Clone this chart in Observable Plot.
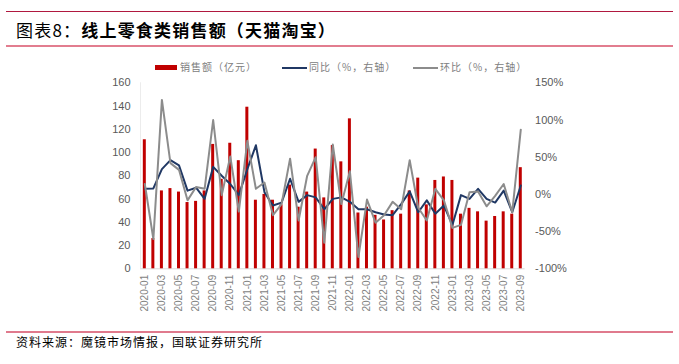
<!DOCTYPE html>
<html>
<head>
<meta charset="utf-8">
<script src="https://cdn.jsdelivr.net/npm/d3@7"></script>
<script src="https://cdn.jsdelivr.net/npm/@observablehq/plot@0.6"></script>
<style>
  body { margin: 0; background: #fff; }
  #wrap { position: relative; width: 679px; height: 364px; overflow: hidden; background: #fff;
          font-family: "Noto Sans CJK SC", "Noto Sans", sans-serif; }
  .abs { position: absolute; }
  .lg { position: absolute; top: 60px; font-size: 10px; line-height: 14px; letter-spacing: 1px; color: #808080; white-space: nowrap; }
</style>
</head>
<body>
<div id="wrap">
  <div class="abs" style="top:11px;left:6px;width:667px;height:1px;background:#B0183F"></div>
  <div class="abs" style="top:18px;left:16px;font-size:17px;line-height:24px;letter-spacing:1.2px;color:#000;white-space:nowrap">
    <span style="font-weight:400">图表8：</span><span style="font-weight:700">线上零食类销售额（天猫淘宝）</span>
  </div>
  <div class="abs" style="top:45px;left:6px;width:667px;height:2px;background:#E27D8F"></div>

  <div class="abs" style="top:65px;left:155px;width:22px;height:5px;background:#C00000"></div>
  <div class="lg" style="left:180px">销售额（亿元）</div>
  <div class="abs" style="top:66.5px;left:282px;width:25px;height:2px;background:#203864"></div>
  <div class="lg" style="left:309px">同比（%，右轴）</div>
  <div class="abs" style="top:66.5px;left:413px;width:25px;height:2px;background:#8C8C8C"></div>
  <div class="lg" style="left:440px">环比（%，右轴）</div>

  <div id="chart" class="abs" style="top:75px;left:0"></div>

  <div class="abs" style="top:331px;left:6px;width:667px;height:2px;background:#E07A8D"></div>
  <div class="abs" style="top:334px;left:16px;font-size:12px;line-height:16px;letter-spacing:1px;color:#000;white-space:nowrap">资料来源：魔镜市场情报，国联证券研究所</div>
</div>
<script>
const months = [
  "2020-01","2020-02","2020-03","2020-04","2020-05","2020-06","2020-07","2020-08","2020-09","2020-10","2020-11","2020-12",
  "2021-01","2021-02","2021-03","2021-04","2021-05","2021-06","2021-07","2021-08","2021-09","2021-10","2021-11","2021-12",
  "2022-01","2022-02","2022-03","2022-04","2022-05","2022-06","2022-07","2022-08","2022-09","2022-10","2022-11","2022-12",
  "2023-01","2023-02","2023-03","2023-04","2023-05","2023-06","2023-07","2023-08","2023-09"
];
// 销售额（亿元）
const sales = [111, 26, 67, 69, 66, 57, 58, 67, 107, 77, 108, 93,
               139, 59, 64, 59, 55, 72, 53, 66, 103, 61, 106, 92,
               129, 48, 53, 46, 42, 50, 47, 67, 78, 55, 76, 79,
               76, 47, 52, 49, 41, 45, 49, 47, 87];
// 同比（%）
const yoy = [7.5, 8, 34, 46, 39, 5, 9, -6, 37, 25, 14, -1,
             34, 66, 3, -15, -11, 21, -10, -1, -4, -20, -6, -4,
             -10, -20, -20, -24, -27, -28, -13, 4, -24, -8, -26, -15,
             -41, -1, -6, 7.5, -6, -11, 5, -24, 12];
// 环比（%）
const mom = [14, -60, 127, 42, 33, -8, 10, 7.5, 100, -1, 51, -23,
             72, 7.5, 16, -28, -13, 48, -35, 25, 50, -65, 67, -13,
             31, -84, -7, -38, -28, -10, -20, 46, -18, -35, 7.5, -8,
             -45, -41, 3, 4, -16, -2, 14, -24, 87];

const leftTicks = [0, 20, 40, 60, 80, 100, 120, 140, 160];
const rightTicks = [-100, -50, 0, 50, 100, 150];
const xTicks = months.filter((d, i) => i % 2 === 0);

const leftDomain = [0, 160];
const rightDomain = [-100, 150];
const toLeft = p => leftDomain[0] + (p - rightDomain[0]) * (leftDomain[1] - leftDomain[0]) / (rightDomain[1] - rightDomain[0]);
const toPct = v => rightDomain[0] + (v - leftDomain[0]) * (rightDomain[1] - rightDomain[0]) / (leftDomain[1] - leftDomain[0]);

const data = months.map((m, i) => ({month: m, sales: sales[i], yoy: yoy[i], mom: mom[i]}));

const chart = Plot.plot({
  width: 679,
  height: 255,
  marginTop: 7.3,
  marginBottom: 61.7,
  marginLeft: 140,
  marginRight: 154.4,
  style: {fontFamily: "'Liberation Sans', Arial, sans-serif", background: "transparent", overflow: "visible"},
  x: {type: "band", domain: months, paddingInner: 0.65, paddingOuter: 0.33, round: false, label: null},
  y: {domain: leftDomain, label: null},
  marks: [
    Plot.ruleY([0], {stroke: "#d9d9d9", strokeWidth: 1}),
    Plot.ruleX([months[0]], {y1: leftDomain[0], y2: leftDomain[1], dx: -4.3, stroke: "#ececec"}),
    Plot.barY(data, {x: "month", y: "sales", fill: "#C00000"}),
    Plot.lineY(data, {x: "month", y: d => toLeft(d.yoy), stroke: "#203864", strokeWidth: 2}),
    Plot.lineY(data, {x: "month", y: d => toLeft(d.mom), stroke: "#8C8C8C", strokeWidth: 2}),
    Plot.axisY({ticks: leftTicks, tickSize: 0, tickPadding: 10, fontSize: 11, fill: "#595959", label: null}),
    Plot.axisY({anchor: "right", ticks: rightTicks.map(toLeft), tickFormat: v => Math.round(toPct(v)) + "%",
                tickSize: 0, tickPadding: 10, fontSize: 11, fill: "#595959", label: null}),
    Plot.axisX({ticks: xTicks, tickRotate: -90, tickSize: 0, tickPadding: 6, fontSize: 10, fill: "#7f7f7f", label: null})
  ]
});
document.getElementById("chart").appendChild(chart);
</script>
</body>
</html>
